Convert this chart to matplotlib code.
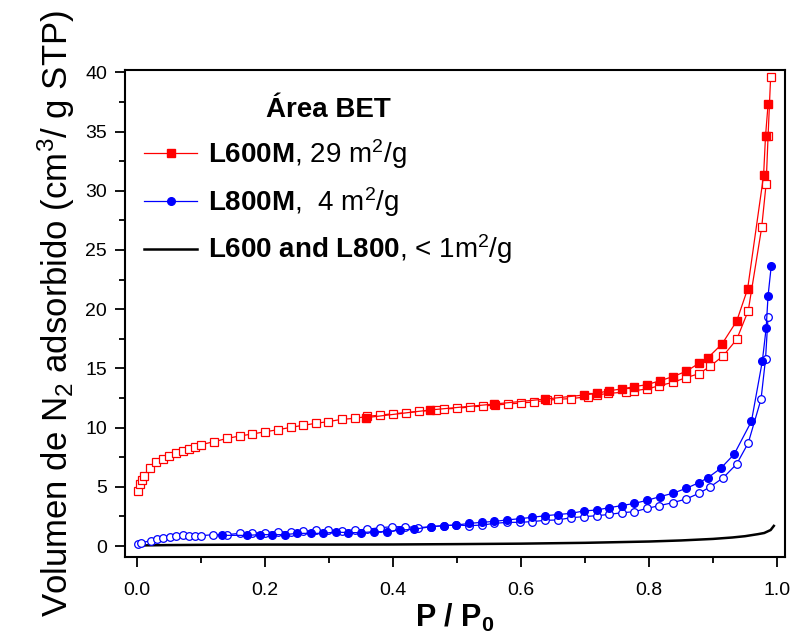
import numpy as np
import matplotlib
matplotlib.use("Agg")
import matplotlib.pyplot as plt
from matplotlib.ticker import MultipleLocator

plt.rcParams['font.family'] = ['Liberation Sans', 'DejaVu Sans']
plt.rcParams['mathtext.fontset'] = 'custom'
plt.rcParams['mathtext.rm'] = 'Liberation Sans'
plt.rcParams['mathtext.it'] = 'Liberation Sans:italic'
plt.rcParams['mathtext.bf'] = 'Liberation Sans:bold'

## Data
# L600M, adsorption (open squares)
red_ads_x = [0.002, 0.005, 0.007, 0.010, 0.020, 0.030, 0.040, 0.050, 0.060, 0.071,
             0.081, 0.091, 0.100, 0.120, 0.141, 0.160, 0.180, 0.200, 0.220, 0.240,
             0.259, 0.279, 0.298, 0.320, 0.340, 0.360, 0.380, 0.400, 0.420, 0.440,
             0.467, 0.480, 0.500, 0.520, 0.540, 0.560, 0.580, 0.600, 0.620, 0.640,
             0.657, 0.678, 0.705, 0.718, 0.736, 0.764, 0.777, 0.797, 0.816, 0.837,
             0.858, 0.878, 0.896, 0.916, 0.937, 0.955, 0.976, 0.983, 0.986, 0.990]
red_ads_y = [4.67, 5.24, 5.57, 5.91, 6.59, 7.07, 7.35, 7.63, 7.83, 8.02,
             8.19, 8.36, 8.56, 8.81, 9.09, 9.29, 9.46, 9.65, 9.82, 10.02,
             10.19, 10.36, 10.50, 10.70, 10.78, 10.95, 11.06, 11.17, 11.26, 11.37,
             11.49, 11.57, 11.63, 11.74, 11.82, 11.91, 11.99, 12.08, 12.16, 12.30,
             12.39, 12.45, 12.61, 12.75, 12.89, 13.00, 13.12, 13.26, 13.54, 13.82,
             14.22, 14.55, 15.20, 16.07, 17.45, 19.87, 26.9, 30.6, 34.6, 39.6]
# L600M, desorption (filled squares)
red_des_x = [0.986, 0.982, 0.979, 0.954, 0.937, 0.914, 0.892, 0.878, 0.858, 0.837,
             0.817, 0.797, 0.777, 0.757, 0.738, 0.718, 0.698, 0.638, 0.558, 0.458, 0.358]
red_des_y = [37.3, 34.6, 31.3, 21.7, 19.0, 17.06, 15.9, 15.43, 14.75, 14.30,
             13.96, 13.63, 13.46, 13.26, 13.12, 12.89, 12.75, 12.41, 11.99, 11.49, 10.84]

# L800M, adsorption (open circles)
blue_ads_x = [0.002, 0.006, 0.022, 0.031, 0.041, 0.051, 0.061, 0.071, 0.081, 0.091,
              0.100, 0.119, 0.141, 0.160, 0.180, 0.200, 0.220, 0.240, 0.259, 0.279,
              0.298, 0.320, 0.340, 0.359, 0.380, 0.399, 0.419, 0.439, 0.459, 0.479,
              0.499, 0.519, 0.539, 0.558, 0.578, 0.598, 0.617, 0.638, 0.657, 0.678,
              0.698, 0.718, 0.738, 0.757, 0.777, 0.797, 0.816, 0.837, 0.858, 0.878,
              0.896, 0.916, 0.937, 0.955, 0.975, 0.982, 0.986]
blue_ads_y = [0.14, 0.28, 0.45, 0.56, 0.70, 0.79, 0.87, 0.90, 0.87, 0.87,
              0.87, 0.96, 0.96, 1.07, 1.07, 1.13, 1.21, 1.18, 1.24, 1.32,
              1.32, 1.30, 1.35, 1.41, 1.55, 1.63, 1.63, 1.55, 1.63, 1.72,
              1.77, 1.72, 1.77, 1.91, 2.00, 2.00, 2.06, 2.17, 2.20, 2.39,
              2.48, 2.56, 2.67, 2.81, 2.90, 3.18, 3.41, 3.66, 3.97, 4.45,
              5.01, 5.77, 6.93, 8.70, 12.40, 15.77, 19.37]
# L800M, desorption (filled circles)
blue_des_x = [0.991, 0.986, 0.983, 0.977, 0.960, 0.933, 0.912, 0.892, 0.878, 0.858,
              0.837, 0.817, 0.797, 0.777, 0.757, 0.738, 0.718, 0.698, 0.678, 0.658,
              0.638, 0.617, 0.598, 0.578, 0.558, 0.539, 0.519, 0.499, 0.479, 0.459,
              0.432, 0.411, 0.391, 0.370, 0.350, 0.330, 0.310, 0.291, 0.271, 0.250,
              0.231, 0.211, 0.192, 0.172, 0.132]
blue_des_y = [23.67, 21.14, 18.39, 15.6, 10.53, 7.75, 6.56, 5.77, 5.35, 4.87,
              4.45, 4.17, 3.86, 3.60, 3.41, 3.24, 3.04, 2.96, 2.76, 2.66,
              2.56, 2.42, 2.31, 2.20, 2.08, 2.00, 1.91, 1.77, 1.72, 1.63,
              1.41, 1.35, 1.21, 1.21, 1.13, 1.13, 1.18, 1.07, 1.07, 1.07,
              0.96, 0.96, 0.96, 0.90, 0.90]

# L600 and L800 (black line)
black_x = [0.005, 0.05, 0.1, 0.2, 0.3, 0.4, 0.5, 0.6, 0.7, 0.8, 0.85, 0.9, 0.93,
           0.95, 0.97, 0.98, 0.99, 0.995]
black_y = [0.05, 0.08, 0.10, 0.12, 0.12, 0.13, 0.16, 0.20, 0.27, 0.38, 0.47, 0.60,
           0.72, 0.83, 1.00, 1.10, 1.35, 1.70]

labels = [r"$\mathbf{L600M}$, 29 m$^2$/g",
          r"$\mathbf{L800M}$,  4 m$^2$/g",
          r"$\mathbf{L600\ and\ L800}$, < 1m$^2$/g"]

## Plot
fig = plt.figure(figsize=(7.94, 6.41), dpi=100)
ax = fig.add_axes([0.1574, 0.131, 0.8313, 0.7598])

l3, = ax.plot(black_x, black_y, '-', color='black', lw=1.8)

ax.plot(blue_ads_x, blue_ads_y, '-o', color='#0000ff', lw=0.9, ms=5.5,
        mfc='white', mec='#0000ff', mew=0.9)
l2, = ax.plot(blue_des_x, blue_des_y, '-o', color='#0000ff', lw=0.9, ms=5.5,
              mfc='#0000ff', mec='#0000ff')

ax.plot(red_ads_x, red_ads_y, '-s', color='#ff0000', lw=0.9, ms=5.5,
        mfc='white', mec='#ff0000', mew=0.9)
l1, = ax.plot(red_des_x, red_des_y, '-s', color='#ff0000', lw=0.9, ms=5.5,
              mfc='#ff0000', mec='#ff0000')

ax.set_xlim(-0.019, 1.0125)
ax.set_ylim(-0.93, 40.2)
ax.xaxis.set_major_locator(MultipleLocator(0.2))
ax.xaxis.set_minor_locator(MultipleLocator(0.1))
ax.yaxis.set_major_locator(MultipleLocator(5))
ax.yaxis.set_minor_locator(MultipleLocator(2.5))
ax.xaxis.set_major_formatter(plt.FormatStrFormatter('%.1f'))

ax.tick_params(which='both', direction='out', top=False, right=False,
               width=1.3, labelsize=14)
ax.tick_params(axis='x', which='both', pad=11)
ax.tick_params(axis='y', which='both', pad=6)
ax.tick_params(which='major', length=7)
ax.tick_params(which='minor', length=4)
for s in ax.spines.values():
    s.set_linewidth(1.5)

ax.set_xlabel(r"P / P$_\mathbf{0}$", fontsize=22, fontweight='bold', labelpad=2)
ax.set_ylabel(r"Volumen de N$_2$ adsorbido (cm$^3$/ g STP)", fontsize=25, labelpad=6)

leg = ax.legend([l1, l2, l3], labels, title="Área BET", loc='upper left',
                bbox_to_anchor=(0.0, 0.984), frameon=False, fontsize=20,
                handlelength=1.9, handletextpad=0.4, labelspacing=0.5,
                borderaxespad=0.3)
leg.get_title().set_fontsize(20)
leg.get_title().set_fontweight('bold')

fig.savefig("out.png", dpi=100)
